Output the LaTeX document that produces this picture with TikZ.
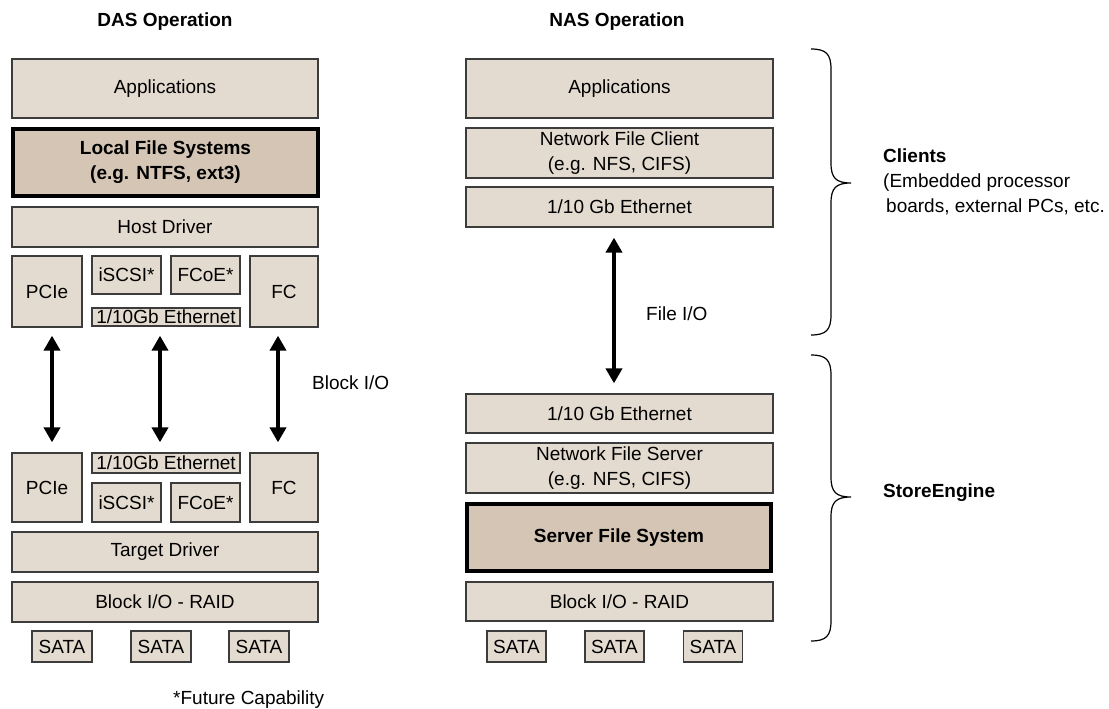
\documentclass[tikz,border=0pt]{standalone}
\usepackage{fontspec}
\setmainfont{Liberation Sans}
\usetikzlibrary{arrows.meta}
\definecolor{boxfill}{RGB}{228,219,208}
\definecolor{darkfill}{RGB}{212,197,180}
\definecolor{boxline}{RGB}{60,60,60}
\begin{document}
\begin{tikzpicture}[x=1pt,y=-1pt,
  txt/.style={font=\fontsize{19}{25}\selectfont, inner sep=0pt},
  ttl/.style={font=\bfseries\fontsize{19}{23}\selectfont, inner sep=0pt},
  sz/.style 2 args={minimum width=#1pt, minimum height=#2pt},
  box/.style={txt, draw=boxline, line width=1.3pt, fill=boxfill, align=center},
  keybox/.style={box, draw=black, line width=4pt, fill=darkfill, font=\bfseries\fontsize{19}{25}\selectfont},
  bigarrow/.style={line width=4.7pt, {Triangle[length=15pt,width=16pt]}-{Triangle[length=15pt,width=16pt]}},
  brace/.style={line width=1.2pt, black}
]
\useasboundingbox (0,0) rectangle (1109,709);

% titles
\node[ttl] (dastitle) at (165,22) {DAS Operation};
\node[ttl] (nastitle) at (617,22) {NAS Operation};

% ---------------- DAS column ----------------
\node[box, sz={306}{59}] (dapp) at (165,88.5) {Applications};
\node[keybox, sz={305}{67}] (dlfs) at (165.5,162.5) {Local File Systems\\(e.g. NTFS, ext3)};
\node[box, sz={306}{40}] (dhost) at (165,227) {Host Driver};
\node[box, sz={70}{71}] (dpcie) at (47,291.5) {PCIe};
\node[box, sz={69}{38}] (discsi) at (126.5,275) {iSCSI*};
\node[box, sz={69}{38}] (dfcoe) at (205.5,275) {FCoE*};
\node[box, sz={148}{18}] (deth) at (166,317) {1/10Gb Ethernet};
\node[box, sz={68}{71}] (dfc) at (284,291.5) {FC};

\node[box, sz={70}{69}] (bpcie) at (47,487.5) {PCIe};
\node[box, sz={148}{20}] (beth) at (166,463) {1/10Gb Ethernet};
\node[box, sz={69}{39}] (biscsi) at (126.5,502.5) {iSCSI*};
\node[box, sz={69}{39}] (bfcoe) at (205.5,502.5) {FCoE*};
\node[box, sz={68}{69}] (bfc) at (284,487.5) {FC};
\node[box, sz={306}{40}] (dtarget) at (165,552) {Target Driver};
\node[box, sz={306}{40}] (draid) at (165,602) {Block I/O - RAID};
\node[box, sz={60}{31}] (dsata1) at (62,646.5) {SATA};
\node[box, sz={60}{31}] (dsata2) at (161,646.5) {SATA};
\node[box, sz={60}{31}] (dsata3) at (259,646.5) {SATA};

\draw[bigarrow] ([xshift=5pt,yshift=-8pt]dpcie.south) -- ([xshift=5pt,yshift=10pt]bpcie.north);
\draw[bigarrow] ([xshift=-6pt,yshift=-9pt]deth.south) -- ([xshift=-6pt,yshift=10pt]beth.north);
\draw[bigarrow] ([xshift=-6pt,yshift=-8pt]dfc.south) -- ([xshift=-6pt,yshift=10pt]bfc.north);
\node[txt, anchor=west] (blockio) at (312,383) {Block I/O};

\node[txt, anchor=base west] (future) at (173,704) {*Future Capability};

% ---------------- NAS column ----------------
\node[box, sz={307}{59}] (napp) at (619.5,88.5) {Applications};
\node[box, sz={307}{50}] (nclient) at (619.5,153) {Network File Client\\(e.g. NFS, CIFS)};
\node[box, sz={307}{40}] (neth1) at (619.5,207) {1/10 Gb Ethernet};
\node[box, sz={307}{39}] (neth2) at (619.5,413.5) {1/10 Gb Ethernet};
\node[box, sz={307}{50}] (nserver) at (619.5,468) {Network File Server\\(e.g. NFS, CIFS)};
\node[keybox, sz={304}{67}] (nsfs) at (619,537.5) {Server File System};
\node[box, sz={307}{39}] (nraid) at (619.5,601.5) {Block I/O - RAID};
\node[box, sz={59}{31}] (nsata1) at (516.5,646.5) {SATA};
\node[box, sz={59}{31}] (nsata2) at (614.5,646.5) {SATA};
\node[box, sz={59}{31}] (nsata3) at (713,646.5) {SATA};

\draw[bigarrow] ([xshift=-5.5pt,yshift=-10pt]neth1.south) -- ([xshift=-5.5pt,yshift=10pt]neth2.north);
\node[txt, anchor=west] (fileio) at (646,314) {File I/O};

% braces
\draw[brace] (811,49) .. controls (826,49) and (831,54) .. (831,69) -- (831,163)
  .. controls (831,178) and (836,183) .. (851,183)
  .. controls (836,183) and (831,188) .. (831,203) -- (831,315)
  .. controls (831,330) and (826,335) .. (811,335);
\draw[brace] (811,355) .. controls (826,355) and (831,360) .. (831,375) -- (831,477)
  .. controls (831,492) and (836,497) .. (851,497)
  .. controls (836,497) and (831,502) .. (831,517) -- (831,621)
  .. controls (831,636) and (826,641) .. (811,641);

\node[txt, align=left, anchor=west] (clients) at (883,182)
  {\textbf{Clients}\\(Embedded processor\\\hspace*{3pt}boards, external PCs, etc.};
\node[txt, anchor=west, font=\bfseries\fontsize{19}{25}\selectfont] (store) at (883,493) {StoreEngine};
\end{tikzpicture}
\end{document}
